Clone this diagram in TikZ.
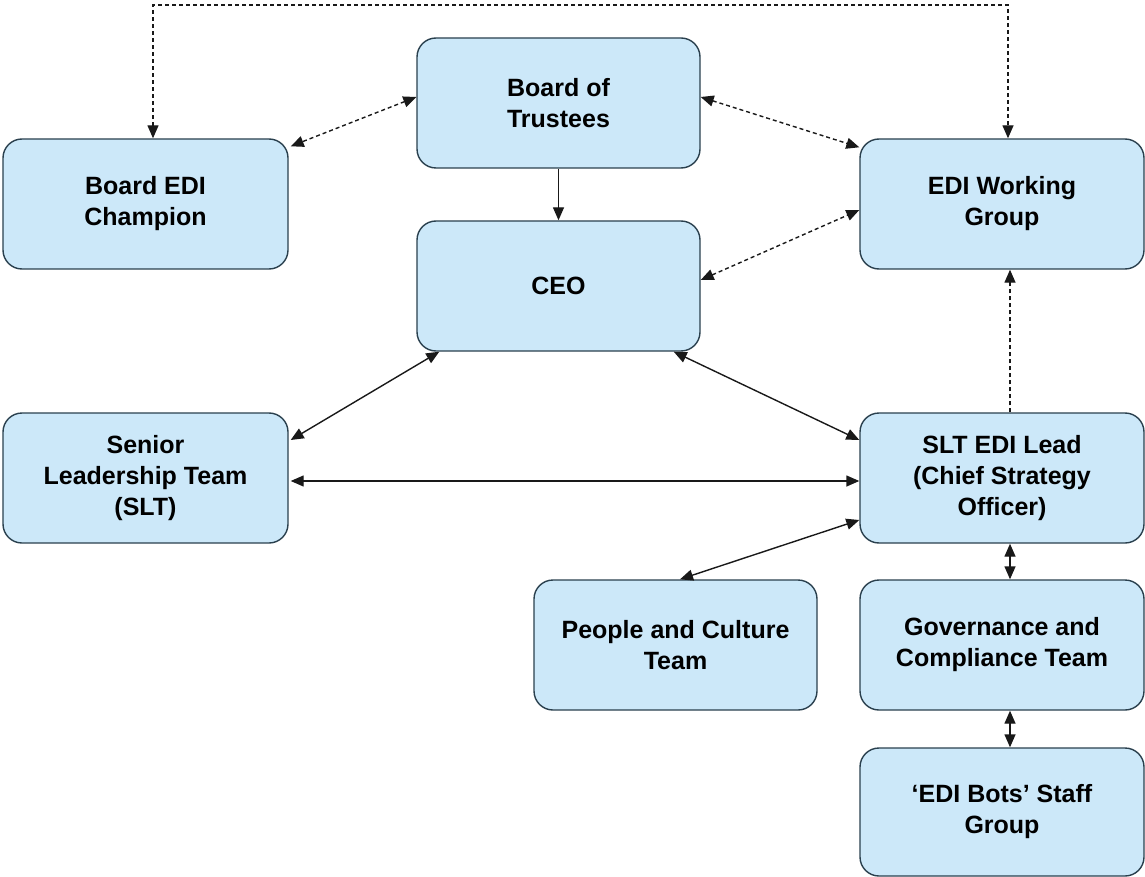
\documentclass[tikz,border=0pt]{standalone}
\usepackage{fontspec}
\setmainfont{Liberation Sans}
\usetikzlibrary{arrows.meta,calc}
\definecolor{boxfill}{RGB}{204,232,249}
\definecolor{boxline}{RGB}{42,64,78}
\tikzset{
  orgbox/.style={draw=boxline, fill=boxfill, line width=1.4pt, rounded corners=19pt,
    minimum width=283pt, minimum height=130pt, align=center, inner sep=0pt,
    font=\bfseries\fontsize{25}{31}\selectfont},
  link/.style={line width=1.4pt, draw=black!90},
  dlink/.style={link, dash pattern=on 4pt off 3pt},
  tip/.style={arrows={-Triangle[length=13pt,width=11pt]}},
  tips/.style={arrows={Triangle[length=13pt,width=11pt]-Triangle[length=13pt,width=11pt]}}
}
\begin{document}
\begin{tikzpicture}[x=1pt,y=-1pt]
\useasboundingbox (0,0) rectangle (1145,877);
\node[orgbox] (bot)  at (558.5,103) {Board of\\Trustees};
\node[orgbox, minimum width=285pt] (bec)  at (145.5,204) {Board EDI\\Champion};
\node[orgbox, minimum width=284pt] (ewg)  at (1002,204) {EDI Working\\Group};
\node[orgbox] (ceo)  at (558.5,286) {CEO};
\node[orgbox, minimum width=285pt] (slt)  at (145.5,478) {Senior\\Leadership Team\\(SLT)};
\node[orgbox, minimum width=284pt] (lead) at (1002,478) {SLT EDI Lead\\(Chief Strategy\\Officer)};
\node[orgbox] (pc)   at (675.5,645) {People and Culture\\Team};
\node[orgbox, minimum width=284pt] (gov)  at (1002,645) {Governance and\\Compliance Team};
\node[orgbox, minimum width=284pt, minimum height=128pt] (bots) at (1002,812) {`EDI Bots' Staff\\Group};
\coordinate (topline) at (580,5);
% dashed connectors
\draw[dlink, tips] ([xshift=7.5pt]bec.north) |- (topline) -| ([xshift=6pt]ewg.north);
\draw[dlink, tips] ([yshift=6pt]bot.west) -- ([xshift=2pt,yshift=-8pt]bec.north east);
\draw[dlink, tips] ([yshift=6pt]bot.east) -- ([yshift=-9pt]ewg.north west);
\draw[dlink, tips] ([yshift=6pt]ceo.east) -- ([yshift=-6pt]ewg.west);
\draw[dlink, tip] ([xshift=8pt]lead.north) -- ([xshift=8pt]ewg.south);
% solid connectors
\draw[link, tip] (bot.south) -- (ceo.north);
\draw[link, tips] ([xshift=23pt]ceo.south west) -- ([xshift=2pt,yshift=38pt]slt.east);
\draw[link, tips] ([xshift=-27pt]ceo.south east) -- ([yshift=38pt]lead.west);
\draw[link, tips] ([xshift=2pt,yshift=-3pt]slt.east) -- ([yshift=-3pt]lead.west);
\draw[link, tips] ([yshift=-42pt]lead.west) -- ([xshift=4.5pt]pc.north);
\draw[link, tips] ([xshift=8pt]lead.south) -- ([xshift=8pt]gov.north);
\draw[link, tips] ([xshift=8pt]gov.south) -- ([xshift=8pt]bots.north);
\end{tikzpicture}
\end{document}
